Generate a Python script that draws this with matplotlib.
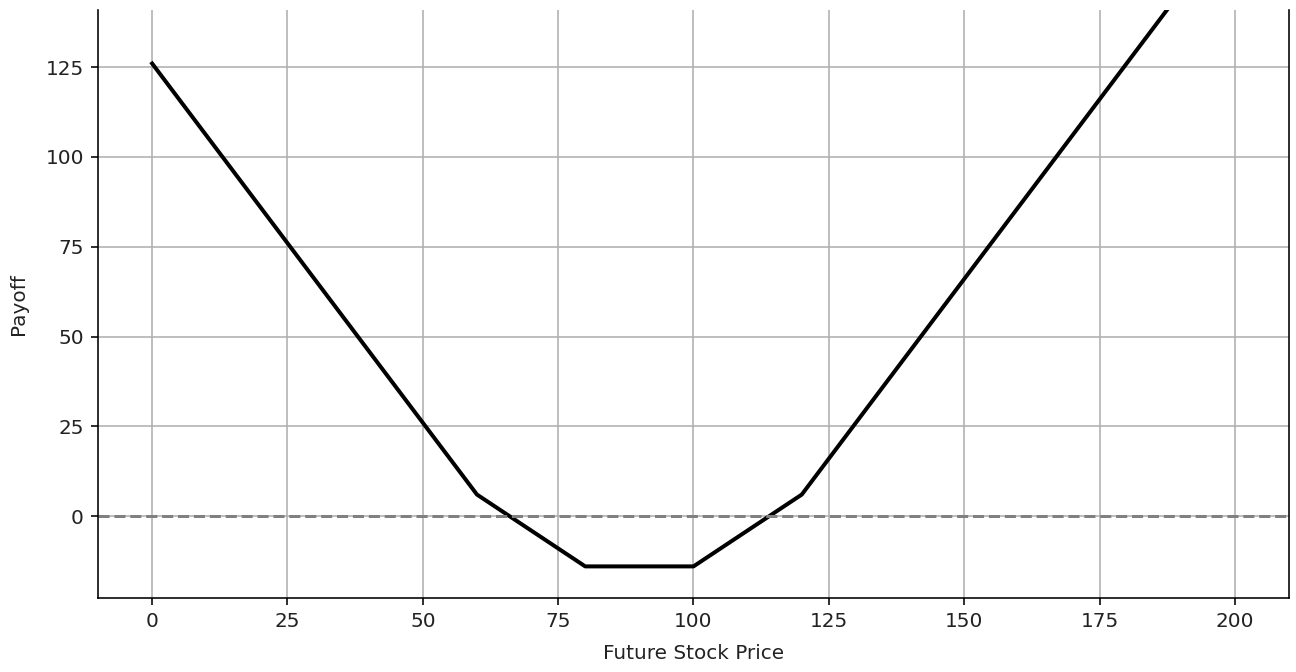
import numpy as np
from matplotlib import pyplot as plt

# payoff breakpoints
stock_price = [0, 60, 80, 100, 120, 200]
payoff = [126, 6, -14, -14, 6, 166]

fig = plt.figure(figsize=(9, 672 / 144), dpi=144)
ax = fig.add_axes([98 / 1296, 74 / 672, (1289 - 98) / 1296, (598 - 10) / 672])

ax.plot(stock_price, payoff, color='black', linewidth=2)
ax.axhline(0, color='gray', linestyle='--', linewidth=1.5)

ax.set_xlim(-10, 210)
ax.set_ylim(-22.8, 140.9)
ax.set_yticks([0, 25, 50, 75, 100, 125])
ax.spines['top'].set_visible(False)
ax.grid(True)
ax.tick_params(labelcolor='#222222')

ax.set_xlabel('Future Stock Price', labelpad=6.5, color='#222222')
ax.set_ylabel('Payoff', labelpad=8.5, color='#222222')

fig.savefig('out.png', dpi=144)
